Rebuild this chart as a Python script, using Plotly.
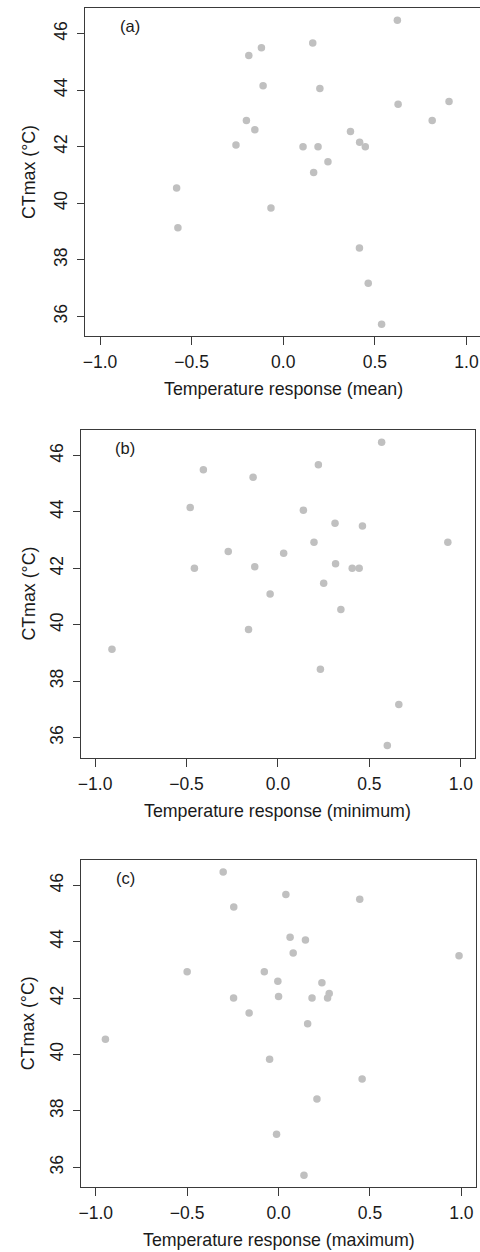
import plotly.graph_objects as go

# CTmax values (°C), shared across panels
ctmax = [46.47, 45.67, 45.50, 45.23, 44.16, 44.06, 43.60, 43.50, 42.93, 42.93,
         42.60, 42.54, 42.16, 42.06, 42.00, 42.00, 42.00, 41.47, 41.09, 40.54,
         39.83, 39.13, 38.42, 37.17, 35.72]

resp_mean = [0.623, 0.161, -0.119, -0.188, -0.110, 0.200, 0.905, 0.627, 0.813, -0.201,
             -0.155, 0.367, 0.417, -0.258, 0.448, 0.108, 0.190, 0.244, 0.166, -0.582,
             -0.067, -0.575, 0.416, 0.464, 0.537]

resp_min = [0.567, 0.221, -0.408, -0.136, -0.480, 0.139, 0.312, 0.462, 0.929, 0.197,
            -0.272, 0.031, 0.315, -0.127, 0.406, 0.444, -0.457, 0.250, -0.043, 0.344,
            -0.161, -0.908, 0.232, 0.661, 0.598]

resp_max = [-0.303, 0.040, 0.444, -0.245, 0.063, 0.147, 0.080, 0.987, -0.500, -0.078,
            -0.004, 0.237, 0.277, 0.000, 0.268, 0.183, -0.246, -0.161, 0.159, -0.947,
            -0.049, 0.457, 0.210, -0.011, 0.139]

x_ticks = [-1.0, -0.5, 0.0, 0.5, 1.0]
x_tick_labels = ["\u22121.0", "\u22120.5", "0.0", "0.5", "1.0"]
y_ticks = [36, 38, 40, 42, 44, 46]

panel_labels = ["(a)", "(b)", "(c)"]
x_titles = ["Temperature response (mean)", "Temperature response (minimum)",
            "Temperature response (maximum)"]
y_title = "CTmax (\u00b0C)"
series = [resp_mean, resp_min, resp_max]

W, H = 480, 1252
FONT = "Liberation Sans, Arial, sans-serif"
FRAME = "#3a3a3a"
PT = "#c0c0c0"
TXT = "#1a1a1a"

# pixel geometry of each panel: (left, right, top, bottom)
panels = [(82.9, 481.1, 7.9, 336.4),
          (78.0, 475.4, 429.9, 757.6),
          (78.6, 476.0, 859.6, 1187.3)]

fig = go.Figure()
layout = dict(width=W, height=H, margin=dict(l=0, r=0, t=0, b=0),
              paper_bgcolor="white", plot_bgcolor="white", showlegend=False,
              font=dict(family=FONT, size=17, color=TXT))
annotations = []

for i, (xs, (l, r, t, b)) in enumerate(zip(series, panels)):
    n = "" if i == 0 else str(i + 1)
    xa, ya = "x" + n, "y" + n
    fig.add_trace(go.Scatter(x=xs, y=ctmax, mode="markers", xaxis=xa, yaxis=ya,
                             marker=dict(size=7.5, color=PT, line=dict(width=0)),
                             hoverinfo="skip"))
    xr_lo, xr_hi = -1.08, 1.08
    right = r
    if r > W:
        unit = (r - l) / (xr_hi - xr_lo)
        xr_hi = xr_hi - (r - W) / unit
        right = W
    layout["xaxis" + n] = dict(
        domain=[l / W, right / W], range=[xr_lo, xr_hi], anchor=ya,
        tickmode="array", tickvals=x_ticks, ticktext=x_tick_labels,
        ticks="outside", ticklen=8, tickwidth=1, tickcolor=FRAME,
        showline=True, linecolor=FRAME, linewidth=1, mirror=True,
        showgrid=False, zeroline=False, ticklabelstandoff=2,
        tickfont=dict(size=17.5, family=FONT, color=TXT))
    layout["yaxis" + n] = dict(
        domain=[1 - b / H, 1 - t / H], range=[35.29, 46.91], anchor=xa,
        tickmode="array", tickvals=y_ticks,
        ticks="outside", ticklen=7, tickwidth=1, tickcolor=FRAME,
        showline=True, linecolor=FRAME, linewidth=1, mirror=(r <= W),
        showgrid=False, zeroline=False, tickangle=-90, ticklabelstandoff=3,
        tickfont=dict(size=17.5, family=FONT, color=TXT))
    # x-axis title
    x0_px = l + (0 - (-1.08)) / 2.16 * (r - l)
    annotations.append(dict(text=x_titles[i], xref="paper", yref="paper",
                            x=x0_px / W, y=1 - (b + 53) / H, showarrow=False,
                            xanchor="center", yanchor="middle",
                            font=dict(size=17.8, family=FONT, color=TXT)))
    # y-axis title
    annotations.append(dict(text=y_title, xref="paper", yref="paper",
                            x=26 / W, y=1 - ((t + b) / 2) / H, showarrow=False,
                            textangle=-90, xanchor="center", yanchor="middle",
                            font=dict(size=17.8, family=FONT, color=TXT)))
    # panel label
    annotations.append(dict(text=panel_labels[i], xref="paper", yref="paper",
                            x=(l + 45) / W, y=1 - (t + 18) / H, showarrow=False,
                            xanchor="center", yanchor="middle",
                            font=dict(size=16.5, family=FONT, color=TXT)))

layout["annotations"] = annotations
fig.update_layout(**layout)
fig.write_html("out.html")
